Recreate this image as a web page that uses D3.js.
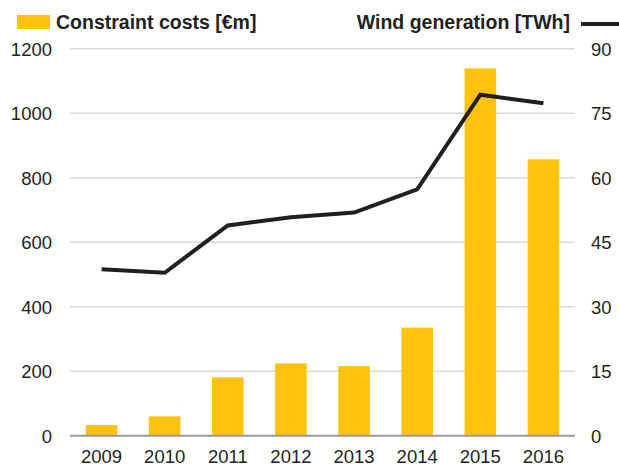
<!DOCTYPE html>
<html>
<head>
<meta charset="utf-8">
<script src="https://cdn.jsdelivr.net/npm/d3@7"></script>
<style>
  body { margin: 0; background: #fff; }
  svg text { font-family: "Liberation Sans", Arial, sans-serif; fill: #231f20; }
</style>
</head>
<body>
<svg width="619" height="466"></svg>
<script>
var years = ["2009", "2010", "2011", "2012", "2013", "2014", "2015", "2016"];
var constraintCosts = [33, 60, 181, 224, 216, 335, 1139, 857];   // €m
var windGeneration = [38.7, 37.9, 48.9, 50.8, 51.9, 57.3, 79.3, 77.3]; // TWh
var leftTicks = [0, 200, 400, 600, 800, 1000, 1200];
var rightTicks = [0, 15, 30, 45, 60, 75, 90];

var FONT = "'Liberation Sans', Arial, sans-serif";
var svg = d3.select("svg");
var margin = { left: 70, right: 575, top: 48.7, bottom: 435.7 };

var x = d3.scaleBand()
  .domain(years)
  .range([margin.left, margin.right])
  .paddingInner(0.5)
  .paddingOuter(0.25);

var yLeft = d3.scaleLinear().domain([0, 1200]).range([margin.bottom, margin.top]);
var yRight = d3.scaleLinear().domain([0, 90]).range([margin.bottom, margin.top]);

// gridlines
svg.append("g")
  .selectAll("line")
  .data(leftTicks.filter(function(d) { return d > 0; }))
  .join("line")
  .attr("x1", margin.left)
  .attr("x2", margin.right)
  .attr("y1", function(d) { return yLeft(d); })
  .attr("y2", function(d) { return yLeft(d); })
  .attr("stroke", "#d9d9d9")
  .attr("stroke-width", 1.5);

// bars
svg.append("g")
  .selectAll("rect")
  .data(constraintCosts)
  .join("rect")
  .attr("x", function(d, i) { return x(years[i]); })
  .attr("width", x.bandwidth())
  .attr("y", function(d) { return yLeft(d); })
  .attr("height", function(d) { return yLeft(0) - yLeft(d); })
  .attr("fill", "#ffc20e");

// baseline
svg.append("line")
  .attr("x1", margin.left)
  .attr("x2", margin.right)
  .attr("y1", yLeft(0))
  .attr("y2", yLeft(0))
  .attr("stroke", "#999999")
  .attr("stroke-width", 2);

// wind line
var line = d3.line()
  .x(function(d, i) { return x(years[i]) + x.bandwidth() / 2; })
  .y(function(d) { return yRight(d); });

svg.append("path")
  .datum(windGeneration)
  .attr("d", line)
  .attr("fill", "none")
  .attr("stroke", "#231f20")
  .attr("stroke-width", 4)
  .attr("stroke-linejoin", "miter");

function styleAxis(g) {
  g.attr("font-family", FONT).attr("font-size", "18.5px");
  g.select(".domain").remove();
  g.selectAll("text").attr("fill", "#231f20");
}

// left axis
svg.append("g")
  .attr("transform", "translate(52,0)")
  .call(d3.axisLeft(yLeft).tickValues(leftTicks).tickFormat(d3.format("d")).tickSize(0).tickPadding(0))
  .call(styleAxis)
  .selectAll("text").attr("dy", "0.35em");

// right axis
svg.append("g")
  .attr("transform", "translate(591,0)")
  .call(d3.axisRight(yRight).tickValues(rightTicks).tickFormat(d3.format("d")).tickSize(0).tickPadding(0))
  .call(styleAxis)
  .selectAll("text").attr("dy", "0.35em");

// bottom axis
svg.append("g")
  .attr("transform", "translate(0,463)")
  .call(d3.axisBottom(x).tickSize(0).tickPadding(0))
  .call(styleAxis)
  .selectAll("text").attr("dy", "0");

// legend
svg.append("rect")
  .attr("x", 17)
  .attr("y", 15)
  .attr("width", 33)
  .attr("height", 14)
  .attr("fill", "#ffc20e");
svg.append("text")
  .attr("x", 56)
  .attr("y", 28.7)
  .attr("font-family", FONT)
  .attr("font-size", "19.5px")
  .attr("font-weight", "bold")
  .text("Constraint costs [€m]");

svg.append("text")
  .attr("x", 570)
  .attr("y", 28.7)
  .attr("font-family", FONT)
  .attr("font-size", "19.5px")
  .attr("font-weight", "bold")
  .attr("text-anchor", "end")
  .text("Wind generation [TWh]");
svg.append("line")
  .attr("x1", 581)
  .attr("x2", 619)
  .attr("y1", 24)
  .attr("y2", 24)
  .attr("stroke", "#231f20")
  .attr("stroke-width", 4);
</script>
</body>
</html>
